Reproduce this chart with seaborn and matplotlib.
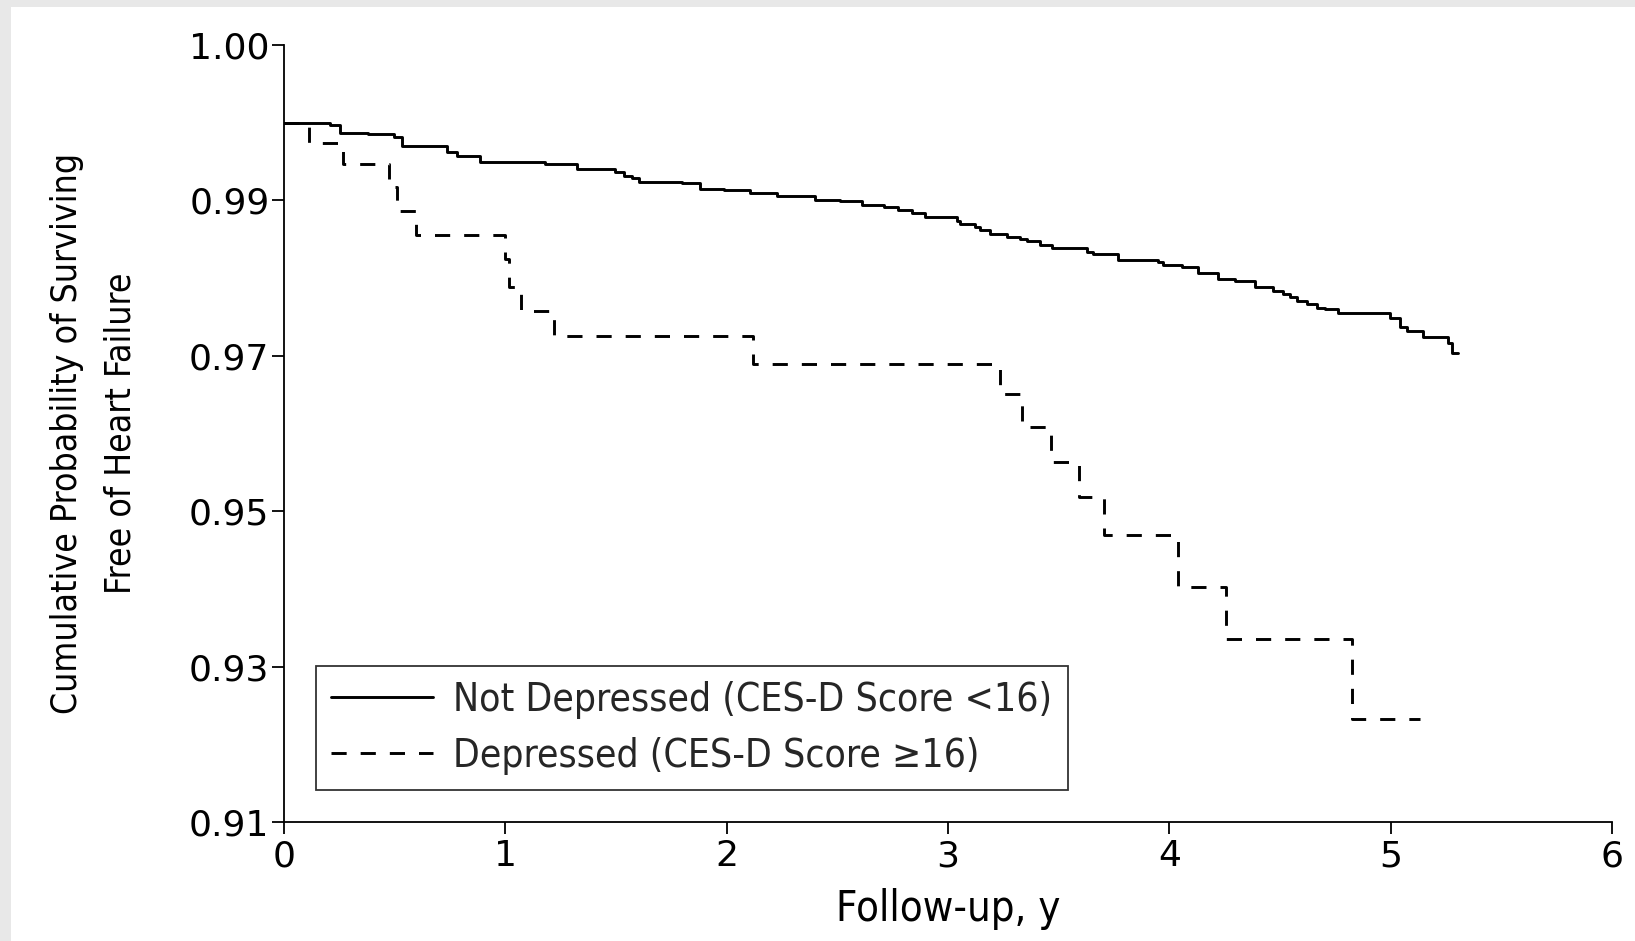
import numpy as np
import pandas as pd
import matplotlib
matplotlib.use("Agg")
import matplotlib.pyplot as plt
import seaborn as sns
from matplotlib.patches import Rectangle
from matplotlib import font_manager

# Kaplan-Meier steps (follow-up in years, survival probability)
t_not_dep = [0.0, 0.21, 0.255, 0.378, 0.496, 0.533, 0.737, 0.782, 0.887, 1.181,
             1.324, 1.497, 1.534, 1.572, 1.602, 1.798, 1.881, 1.986, 2.107, 2.227,
             2.40, 2.513, 2.611, 2.709, 2.776, 2.837, 2.897, 3.040, 3.055, 3.123,
             3.145, 3.19, 3.266, 3.326, 3.356, 3.416, 3.469, 3.627, 3.657, 3.770,
             3.951, 3.973, 4.057, 4.131, 4.222, 4.297, 4.387, 4.470, 4.515, 4.545,
             4.576, 4.621, 4.666, 4.704, 4.764, 4.997, 5.042, 5.073, 5.148, 5.261,
             5.276, 5.306]
s_not_dep = [1.0, 0.9997, 0.9987, 0.9985, 0.9981, 0.9970, 0.9962, 0.9957, 0.9950, 0.9947,
             0.9941, 0.9936, 0.9932, 0.9929, 0.9924, 0.9922, 0.9915, 0.9913, 0.9910, 0.9906,
             0.9901, 0.9899, 0.9894, 0.9892, 0.9888, 0.9884, 0.9878, 0.9874, 0.9870, 0.9866,
             0.9862, 0.9857, 0.9853, 0.9850, 0.9848, 0.9842, 0.9839, 0.9834, 0.9831, 0.9823,
             0.9821, 0.9817, 0.9814, 0.9807, 0.9799, 0.9796, 0.9789, 0.9784, 0.9780, 0.9776,
             0.9771, 0.9767, 0.9761, 0.9760, 0.9755, 0.9749, 0.9737, 0.9732, 0.9724, 0.9716,
             0.9704, 0.9704]

t_dep = [0.0, 0.112, 0.267, 0.473, 0.511, 0.598, 1.000, 1.015, 1.071, 1.218,
         2.121, 3.235, 3.334, 3.466, 3.590, 3.706, 4.041, 4.255, 4.827, 5.133]
s_dep = [1.0, 0.9974, 0.9947, 0.9917, 0.9886, 0.9856, 0.9825, 0.9789, 0.9758, 0.9726,
         0.9690, 0.9651, 0.9609, 0.9563, 0.9518, 0.9469, 0.9403, 0.9335, 0.9232, 0.9232]

labels = ["Not Depressed (CES-D Score <16)", "Depressed (CES-D Score \u226516)"]

# the published axis labels its top tick "1.00" although the spacing is 0.02
y_ticks = [0.91, 0.93, 0.95, 0.97, 0.99, 1.01]
y_ticklabels = ["0.91", "0.93", "0.95", "0.97", "0.99", "1.00"]
x_ticks = [0, 1, 2, 3, 4, 5, 6]

df = pd.concat([
    pd.DataFrame({"time": t_not_dep, "surv": s_not_dep, "group": labels[0]}),
    pd.DataFrame({"time": t_dep, "surv": s_dep, "group": labels[1]}),
], ignore_index=True)

sns.set_style("ticks")
plt.rcParams["font.family"] = ["DejaVu Sans"]

# condensed face for the axis titles and legend, if installed
have_cond = any("DejaVuSansCondensed.ttf" in f.fname
                for f in font_manager.fontManager.ttflist)
if have_cond:
    lab_font = {"family": "DejaVu Sans", "stretch": "condensed"}
    ys, xs, ls = 25.5, 30, 28
else:
    lab_font = {"family": "Liberation Sans"}
    ys, xs, ls = 24, 30, 27

W, H = 1635, 941
fig = plt.figure(figsize=(W / 100, H / 100), dpi=100, facecolor="#e8e8e8")
fig.add_artist(Rectangle((11 / W, 0), 1, 1 - 7 / H, transform=fig.transFigure,
                         facecolor="white", edgecolor="none", zorder=-5))
ax = fig.add_axes([284 / W, (H - 822) / H, 1328 / W, 777 / H])
ax.set_facecolor("white")

sns.lineplot(data=df, x="time", y="surv", style="group", style_order=labels,
             dashes={labels[0]: "", labels[1]: (5.2, 4.8)}, color="black",
             linewidth=2.1, drawstyle="steps-post", estimator=None,
             legend=False, ax=ax)

ax.set_xlim(0, 6)
ax.set_ylim(0.91, 1.01)
ax.set_xticks(x_ticks)
ax.set_yticks(y_ticks)
ax.set_yticklabels(y_ticklabels)
sns.despine(ax=ax)
for sp in ("left", "bottom"):
    ax.spines[sp].set_linewidth(1.3)
    ax.spines[sp].set_color("black")
ax.tick_params(axis="both", direction="out", length=8.5, width=1.3, color="black",
               labelsize=26, labelcolor="black")
ax.tick_params(axis="y", pad=2)
ax.tick_params(axis="x", pad=4)

ax.set_xlabel("Follow-up, y", fontsize=xs, color="black", **lab_font)
ax.xaxis.set_label_coords(0.5, -0.085)
ax.set_ylabel("Cumulative Probability of Surviving\nFree of Heart Failure",
              fontsize=ys, color="black", linespacing=1.75, **lab_font)
ax.yaxis.set_label_coords(-0.110, 0.5)

leg_prop = font_manager.FontProperties(size=ls, **lab_font)
leg = ax.legend(ax.get_lines()[:2], labels, loc="lower left",
                bbox_to_anchor=(0.024, 0.041), borderaxespad=0,
                prop=leg_prop, frameon=True, fancybox=False,
                edgecolor="black", handlelength=102 / (ls * 1.389), handletextpad=0.5,
                borderpad=0.4, labelspacing=0.45)
leg.get_frame().set_linewidth(1.3)

fig.savefig("out.png", dpi=100, facecolor=fig.get_facecolor())
